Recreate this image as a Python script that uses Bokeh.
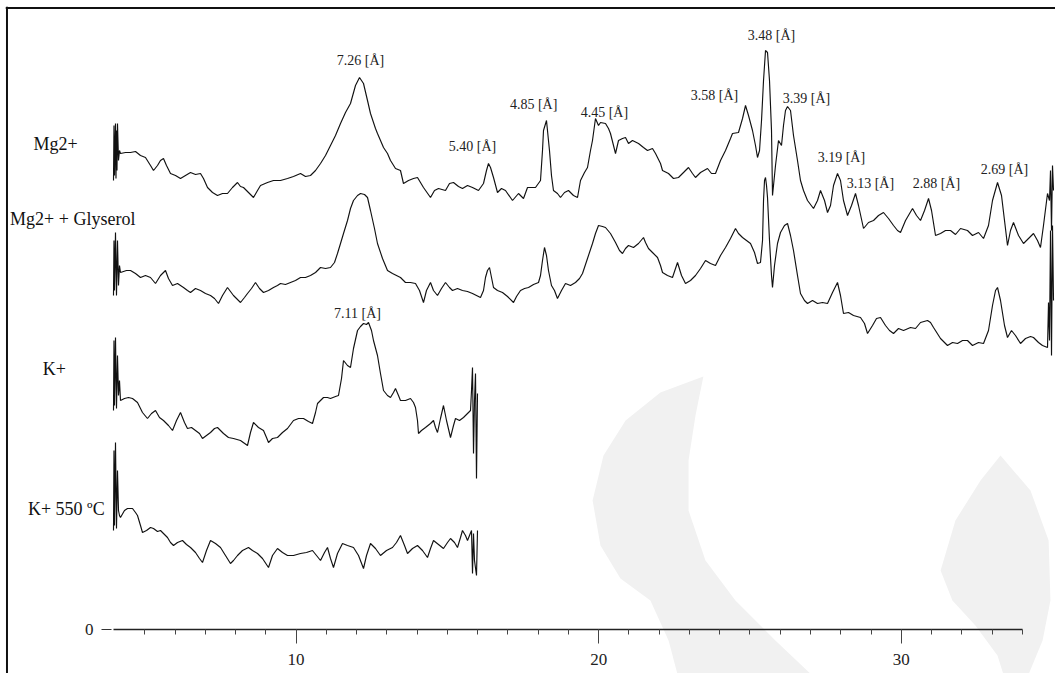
from bokeh.plotting import figure
from bokeh.models import Range1d, LinearAxis, FixedTicker, ColumnDataSource, Span
from bokeh.core.properties import value
from bokeh.embed import file_html
from bokeh.resources import INLINE
import numpy as np

# ---------------- data (2-theta [deg], relative intensity) ----------------
mg_x = [3.967, 3.983, 4.000, 4.033, 4.049, 4.066, 4.082, 4.099, 4.132, 4.165, 4.198, 4.363, 4.529, 4.694, 4.859,
        5.024, 5.190, 5.289, 5.421, 5.520, 5.619, 5.718, 5.851, 6.016, 6.181, 6.346, 6.512, 6.677, 6.842, 6.941,
        7.074, 7.239, 7.404, 7.569, 7.734, 7.899, 8.065, 8.164, 8.263, 8.428, 8.593, 8.726, 8.825, 9.056, 9.254,
        9.486, 9.717, 9.915, 10.147, 10.312, 10.477, 10.643, 10.808, 10.973, 11.138, 11.303, 11.469, 11.634,
        11.799, 11.964, 12.097, 12.229, 12.361, 12.460, 12.625, 12.691, 12.890, 13.022, 13.121, 13.286, 13.451,
        13.550, 13.716, 13.881, 14.013, 14.211, 14.443, 14.575, 14.707, 14.938, 15.071, 15.203, 15.368, 15.500,
        15.666, 15.831, 16.029, 16.194, 16.293, 16.359, 16.426, 16.525, 16.657, 16.789, 16.921, 17.153, 17.351,
        17.516, 17.649, 17.913, 18.078, 18.144, 18.177, 18.276, 18.375, 18.441, 18.507, 18.639, 18.739, 18.871,
        19.003, 19.168, 19.301, 19.400, 19.532, 19.631, 19.730, 19.796, 19.895, 19.995, 20.061, 20.226, 20.325,
        20.391, 20.557, 20.656, 20.788, 20.887, 20.986, 21.118, 21.317, 21.482, 21.614, 21.779, 21.879, 22.044,
        22.110, 22.308, 22.473, 22.638, 22.804, 22.969, 23.101, 23.200, 23.366, 23.597, 23.729, 23.861, 24.027,
        24.192, 24.357, 24.423, 24.621, 24.754, 24.853, 24.952, 25.084, 25.183, 25.249, 25.316, 25.382, 25.448,
        25.514, 25.580, 25.646, 25.712, 25.745, 25.844, 25.943, 26.042, 26.108, 26.174, 26.241, 26.340, 26.439,
        26.571, 26.670, 26.769, 26.902, 27.100, 27.232, 27.331, 27.464, 27.563, 27.662, 27.761, 27.893, 27.992,
        28.091, 28.224, 28.356, 28.488, 28.587, 28.753, 28.918, 29.083, 29.248, 29.413, 29.579, 29.744, 29.876,
        29.975, 30.141, 30.372, 30.504, 30.636, 30.769, 30.901, 31.000, 31.132, 31.297, 31.462, 31.627, 31.793,
        31.958, 32.189, 32.354, 32.553, 32.718, 32.883, 33.015, 33.181, 33.313, 33.412, 33.511, 33.610, 33.709,
        33.875, 34.040, 34.205, 34.370, 34.502, 34.601, 34.700, 34.833, 34.899, 34.932, 34.965, 34.998, 35.031]
mg_i = [70, 125, 75, 127, 72, 120, 80, 127, 90, 100, 97, 98, 98, 99, 95,
        93, 85, 80, 85, 90, 92, 85, 77, 75, 72, 75, 78, 76, 77, 72,
        63, 58, 55, 57, 57, 63, 68, 64, 63, 58, 53, 60, 65, 68, 70,
        70, 72, 74, 77, 74, 75, 80, 87, 95, 105, 115, 127, 138,
        147, 165, 173, 167, 150, 137, 122, 117, 103, 97, 90, 82, 80,
        67, 70, 72, 73, 63, 53, 60, 62, 60, 67, 68, 64, 62,
        65, 63, 60, 67, 80, 87, 83, 73, 58, 62, 60, 50, 57,
        52, 63, 63, 70, 100, 120, 130, 100, 75, 60, 57, 53, 58,
        60, 55, 53, 70, 78, 83, 100, 110, 132, 125, 128, 127, 122,
        117, 97, 110, 112, 113, 107, 110, 107, 103, 100, 102, 97, 87,
        80, 77, 72, 73, 78, 83, 77, 73, 78, 82, 77, 77, 90,
        100, 112, 117, 118, 132, 145, 135, 120, 105, 93, 100, 130, 170,
        200, 198, 170, 120, 55, 85, 110, 105, 125, 140, 144, 140, 115,
        90, 70, 60, 50, 42, 50, 60, 50, 38, 45, 65, 77, 70,
        50, 35, 45, 57, 45, 22, 28, 30, 35, 38, 32, 25, 20,
        18, 30, 42, 35, 30, 40, 52, 40, 15, 17, 20, 20, 16,
        22, 20, 15, 18, 12, 25, 50, 68, 55, 30, 5, 20, 28,
        15, 7, 12, 17, 10, 3, 25, 57, 50, 80, 20, 85, 60]

gly_x = [3.967, 3.983, 4.000, 4.033, 4.066, 4.099, 4.132, 4.165, 4.198, 4.396, 4.529, 4.694, 4.859, 5.024,
         5.190, 5.355, 5.520, 5.685, 5.784, 5.917, 6.082, 6.280, 6.412, 6.512, 6.677, 6.842, 7.007, 7.173,
         7.305, 7.437, 7.569, 7.734, 7.932, 8.164, 8.296, 8.395, 8.527, 8.659, 8.792, 8.924, 9.089, 9.254,
         9.386, 9.486, 9.651, 9.816, 9.981, 10.147, 10.312, 10.477, 10.643, 10.808, 10.973, 11.138, 11.270,
         11.369, 11.469, 11.568, 11.700, 11.799, 11.898, 12.031, 12.130, 12.262, 12.361, 12.460, 12.592,
         12.691, 12.857, 13.022, 13.187, 13.319, 13.451, 13.617, 13.782, 13.947, 14.079, 14.211, 14.310,
         14.443, 14.542, 14.674, 14.806, 14.938, 15.071, 15.170, 15.335, 15.500, 15.666, 15.831, 15.963,
         16.095, 16.194, 16.260, 16.326, 16.393, 16.459, 16.525, 16.657, 16.822, 16.988, 17.186, 17.285,
         17.417, 17.550, 17.682, 17.847, 18.012, 18.078, 18.144, 18.210, 18.276, 18.342, 18.441, 18.540,
         18.639, 18.772, 18.904, 19.069, 19.234, 19.367, 19.466, 19.631, 19.796, 19.895, 19.995, 20.127,
         20.226, 20.391, 20.557, 20.689, 20.788, 20.887, 20.986, 21.151, 21.317, 21.482, 21.548, 21.647,
         21.779, 21.945, 22.044, 22.110, 22.275, 22.440, 22.606, 22.738, 22.870, 23.035, 23.200, 23.366,
         23.531, 23.696, 23.861, 24.027, 24.192, 24.357, 24.522, 24.621, 24.754, 24.886, 25.018, 25.150,
         25.249, 25.348, 25.415, 25.448, 25.481, 25.514, 25.547, 25.580, 25.646, 25.712, 25.745, 25.811,
         25.910, 26.009, 26.141, 26.241, 26.340, 26.439, 26.571, 26.670, 26.802, 26.902, 27.067, 27.232,
         27.397, 27.563, 27.728, 27.893, 27.992, 28.091, 28.257, 28.422, 28.653, 28.785, 28.885, 29.050,
         29.182, 29.314, 29.479, 29.612, 29.744, 29.909, 30.075, 30.306, 30.471, 30.636, 30.868, 30.967,
         31.066, 31.297, 31.528, 31.694, 31.859, 32.024, 32.189, 32.354, 32.553, 32.718, 32.883, 33.015,
         33.115, 33.181, 33.280, 33.412, 33.511, 33.643, 33.775, 33.941, 34.106, 34.271, 34.370, 34.535,
         34.667, 34.833, 34.866, 34.899, 34.932, 34.965, 34.998, 35.031]
gly_i = [63, 118, 68, 126, 63, 118, 73, 93, 86, 88, 88, 85, 81, 83,
         81, 75, 83, 88, 80, 73, 75, 71, 68, 66, 70, 68, 65, 63,
         60, 55, 63, 71, 63, 56, 61, 65, 70, 76, 70, 66, 68, 71,
         73, 75, 74, 76, 78, 81, 81, 83, 86, 91, 90, 91, 96,
         105, 115, 125, 138, 150, 158, 163, 165, 164, 161, 148, 130,
         115, 100, 88, 85, 83, 81, 76, 76, 75, 68, 56, 68,
         76, 68, 63, 70, 76, 71, 68, 70, 68, 67, 65, 63,
         61, 68, 81, 88, 91, 81, 71, 68, 66, 62, 56, 62,
         68, 70, 71, 74, 76, 83, 98, 111, 103, 88, 73, 68,
         60, 68, 75, 73, 76, 80, 85, 100, 115, 125, 133, 132,
         131, 125, 116, 108, 105, 110, 113, 111, 115, 121, 116, 110,
         106, 101, 93, 86, 83, 81, 96, 83, 75, 78, 83, 90,
         98, 95, 93, 103, 111, 120, 130, 125, 121, 118, 115, 106,
         95, 96, 118, 158, 178, 181, 173, 161, 118, 83, 71, 93,
         115, 126, 133, 135, 123, 108, 83, 65, 58, 55, 58, 55,
         56, 55, 66, 76, 63, 45, 46, 43, 41, 35, 25, 33,
         40, 41, 33, 28, 25, 30, 28, 31, 30, 36, 38, 36,
         31, 20, 13, 16, 15, 18, 18, 13, 16, 15, 28, 53,
         68, 71, 58, 33, 21, 28, 23, 15, 20, 22, 21, 16,
         13, 11, 56, 18, 128, 3, 133, 58]

k_x = [3.967, 3.983, 4.000, 4.033, 4.066, 4.099, 4.132, 4.165, 4.198, 4.330, 4.463, 4.595, 4.760, 4.925,
       5.090, 5.223, 5.355, 5.487, 5.619, 5.784, 5.917, 6.049, 6.181, 6.313, 6.412, 6.545, 6.677, 6.809,
       6.908, 7.040, 7.173, 7.305, 7.404, 7.503, 7.602, 7.767, 7.932, 8.164, 8.395, 8.494, 8.593, 8.759,
       8.924, 9.023, 9.089, 9.221, 9.386, 9.552, 9.717, 9.816, 9.915, 10.081, 10.246, 10.411, 10.543,
       10.643, 10.709, 10.808, 10.907, 11.039, 11.138, 11.303, 11.402, 11.502, 11.568, 11.700, 11.799,
       11.898, 12.031, 12.130, 12.229, 12.328, 12.394, 12.493, 12.559, 12.691, 12.790, 12.890, 13.022,
       13.121, 13.220, 13.286, 13.385, 13.451, 13.617, 13.782, 13.881, 13.947, 14.013, 14.046, 14.145,
       14.277, 14.443, 14.542, 14.608, 14.674, 14.773, 14.872, 14.972, 15.104, 15.203, 15.269, 15.401,
       15.533, 15.666, 15.765, 15.798, 15.831, 15.864, 15.897, 15.930, 15.963, 15.996]
k_i = [70, 140, 75, 143, 72, 125, 85, 100, 80, 82, 83, 82, 78, 68,
       62, 67, 70, 63, 60, 55, 50, 60, 68, 58, 52, 53, 50, 47,
       42, 45, 48, 52, 53, 50, 47, 43, 42, 40, 35, 48, 58, 53,
       50, 43, 38, 42, 43, 48, 52, 56, 60, 62, 62, 59, 57,
       68, 77, 80, 83, 83, 82, 84, 85, 102, 120, 115, 113,
       132, 150, 154, 157, 156, 158, 150, 140, 125, 107, 90, 85,
       83, 88, 92, 85, 80, 80, 82, 78, 73, 60, 47, 50,
       53, 57, 60, 53, 48, 62, 75, 60, 43, 55, 62, 60,
       63, 67, 70, 90, 113, 27, 80, 107, 2, 87]

k550_x = [3.967, 3.983, 4.000, 4.033, 4.066, 4.099, 4.132, 4.165, 4.198, 4.330, 4.429, 4.595, 4.694, 4.760,
          4.859, 4.925, 5.058, 5.190, 5.289, 5.421, 5.520, 5.619, 5.751, 5.851, 5.950, 6.082, 6.247, 6.379,
          6.512, 6.677, 6.809, 6.908, 7.040, 7.173, 7.338, 7.503, 7.668, 7.833, 7.932, 8.065, 8.230, 8.428,
          8.560, 8.726, 8.891, 9.089, 9.221, 9.386, 9.552, 9.717, 9.915, 10.147, 10.345, 10.543, 10.676,
          10.808, 10.940, 11.039, 11.138, 11.237, 11.369, 11.535, 11.700, 11.898, 12.064, 12.229, 12.328,
          12.460, 12.625, 12.790, 12.989, 13.187, 13.319, 13.451, 13.584, 13.683, 13.848, 14.013, 14.178,
          14.344, 14.443, 14.542, 14.707, 14.872, 15.005, 15.104, 15.236, 15.335, 15.434, 15.500, 15.599,
          15.666, 15.732, 15.798, 15.831, 15.864, 15.897, 15.963, 15.996]
k550_i = [48, 128, 53, 136, 50, 108, 68, 63, 61, 68, 70, 70, 66, 63,
          53, 46, 48, 51, 50, 47, 48, 45, 41, 36, 33, 36, 38, 34,
          31, 26, 20, 16, 28, 38, 35, 31, 23, 15, 18, 23, 28, 31,
          28, 25, 20, 11, 23, 30, 26, 23, 23, 25, 26, 28, 23,
          18, 26, 31, 20, 11, 25, 35, 33, 31, 23, 10, 23,
          35, 30, 23, 28, 31, 36, 43, 33, 25, 30, 33, 28,
          21, 30, 38, 34, 30, 36, 40, 36, 31, 41, 48, 43,
          38, 43, 48, 5, 45, 18, 3, 48]

series_names = ["Mg2+", "Mg2+ + Glyserol", "K+", "K+ 550 \u00baC"]
series_offsets = [379, 271, 149, 51]

peak_labels = ["7.26 [\u00c5]", "5.40 [\u00c5]", "4.85 [\u00c5]", "4.45 [\u00c5]", "3.58 [\u00c5]", "3.48 [\u00c5]",
               "3.39 [\u00c5]", "3.19 [\u00c5]", "3.13 [\u00c5]", "2.88 [\u00c5]", "2.69 [\u00c5]", "7.11 [\u00c5]"]

# ---------------- layout positions for annotations / decoration ----------------
peak_label_x = [12.13, 15.83, 17.85, 20.19, 23.83, 25.71, 26.87, 28.02, 28.98, 31.16, 33.41, 12.03]
peak_label_y = [569, 483, 525, 517, 534, 594, 531, 472, 446, 446, 460, 316]
name_x = [1.32, 0.55, 1.63, 1.14]
name_y = [486, 411, 261, 121]

# faint publisher watermark in the lower right (decoration)
wm_a_x = [23.46, 22.04, 20.89, 20.16, 19.80, 20.06, 20.72, 21.71, 22.31, 22.67, 27.27, 25.84, 24.52, 23.53,
          22.97, 22.97, 23.20]
wm_a_y = [253, 237, 209, 174, 129, 84, 51, 29, -11, -52, -52, -11, 29, 69, 119, 169, 214]
wm_b_x = [33.28, 34.27, 34.87, 34.93, 34.67, 34.11, 33.45, 33.18, 32.45, 31.69, 31.30, 31.79, 32.62]
wm_b_y = [174, 139, 89, 29, -11, -52, -52, -26, 4, 29, 59, 109, 149]

FONT = "Liberation Serif"

p = figure(width=1055, height=673, output_backend="svg", toolbar_location=None,
           x_range=Range1d(0.398, 35.097), y_range=Range1d(-44, 623),
           x_axis_location=None, y_axis_location=None, title=None,
           min_border_left=5, min_border_top=6, min_border_right=0, min_border_bottom=0)
p.grid.visible = False
p.background_fill_color = "white"
p.border_fill_color = "white"
p.outline_line_color = None

p.patches([wm_a_x, wm_b_x], [wm_a_y, wm_b_y], fill_color="#f1f1f1", line_color=None)

# outer frame of the original figure (left and top edges)
p.add_layout(Span(location=0.447, dimension="height", line_color="#111111", line_width=2))
p.add_layout(Span(location=621.5, dimension="width", line_color="#111111", line_width=2))

xs_all = [mg_x, gly_x, k_x, k550_x]
ys_all = [mg_i, gly_i, k_i, k550_i]
for xs, ys, off in zip(xs_all, ys_all, series_offsets):
    p.line(np.array(xs), np.array(ys) + off, line_color="#111111", line_width=1.15)

# x axis (inside frame at y = 0)
xaxis = LinearAxis(fixed_location=0, bounds=(3.96, 34),
                   ticker=FixedTicker(ticks=[10, 20, 30], minor_ticks=list(range(5, 35))))
xaxis.axis_line_color = "#222222"
xaxis.axis_line_width = 1.6
xaxis.major_tick_out = 14
xaxis.major_tick_in = 0
xaxis.minor_tick_out = 5
xaxis.minor_tick_in = 0
xaxis.major_tick_line_color = "#444444"
xaxis.minor_tick_line_color = "#444444"
xaxis.major_label_text_font = FONT
xaxis.major_label_text_font_size = "17px"
xaxis.major_label_text_color = "#222222"
xaxis.major_label_standoff = 10
p.add_layout(xaxis, "below")

# y axis: only the zero tick
yaxis = LinearAxis(fixed_location=3.9, ticker=FixedTicker(ticks=[0], minor_ticks=[]))
yaxis.axis_line_color = None
yaxis.major_tick_out = 10
yaxis.major_tick_in = 0
yaxis.major_tick_line_color = "#333333"
yaxis.minor_tick_line_color = None
yaxis.major_label_text_font = FONT
yaxis.major_label_text_font_size = "17px"
yaxis.major_label_text_color = "#222222"
yaxis.major_label_standoff = 8
p.add_layout(yaxis, "left")

peak_src = ColumnDataSource(dict(x=peak_label_x, y=peak_label_y, t=peak_labels))
p.text(x="x", y="y", text="t", source=peak_src, text_font=value(FONT), text_font_size="14px",
       text_align="center", text_baseline="middle", text_color="#222222")

name_src = ColumnDataSource(dict(x=name_x, y=name_y, t=series_names))
p.text(x="x", y="y", text="t", source=name_src, text_font=value(FONT), text_font_size="18px",
       text_align="left", text_baseline="middle", text_color="#111111")

open("out.html", "w").write(file_html(p, INLINE))
